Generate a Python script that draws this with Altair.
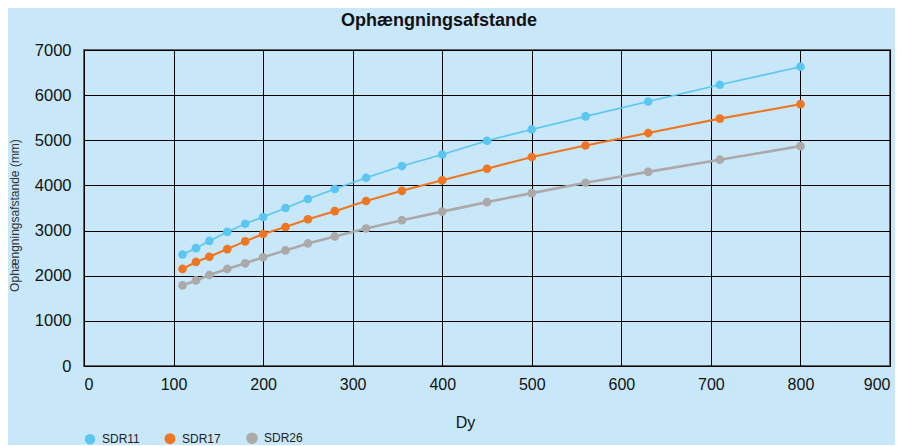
import altair as alt
import pandas as pd

dy = [110, 125, 140, 160, 180, 200, 225, 250, 280, 315, 355, 400, 450, 500, 560, 630, 710, 800]
sdr11 = [2470, 2610, 2770, 2970, 3150, 3300, 3500, 3700, 3920, 4170, 4430, 4685, 4990, 5240, 5530, 5860, 6230, 6630]
sdr17 = [2150, 2305, 2420, 2590, 2760, 2925, 3080, 3250, 3430, 3655, 3880, 4115, 4370, 4630, 4885, 5160, 5480, 5800]
sdr26 = [1785, 1895, 2015, 2150, 2275, 2410, 2560, 2715, 2870, 3045, 3230, 3420, 3630, 3830, 4060, 4300, 4570, 4870]
series = ["SDR11", "SDR17", "SDR26"]
colors = ["#5bc6f0", "#ee7623", "#aca9a9"]

rows = []
for name, vals in zip(series, [sdr11, sdr17, sdr26]):
    for d, v in zip(dy, vals):
        rows.append({"Dy": d, "val": v, "serie": name})
df = pd.DataFrame(rows)

font = "Liberation Sans"
xenc = alt.X("Dy:Q", scale=alt.Scale(domain=[0, 900], nice=False),
             axis=alt.Axis(values=list(range(0, 901, 100)), format="d", title="Dy", grid=True,
                           gridColor="#000000", gridWidth=1, gridOpacity=1,
                           ticks=False, domain=False, labelFontSize=16, labelColor="#111",
                           labelPadding=10, titleFontSize=16, titleFontWeight="normal",
                           titleX=381, titleY=48, titleColor="#111", labelFont=font, titleFont=font))
yenc = alt.Y("val:Q", scale=alt.Scale(domain=[0, 7000], nice=False),
             axis=alt.Axis(values=list(range(0, 7001, 1000)), format="d", title="Ophængningsafstande (mm)",
                           grid=True, gridColor="#000000", gridWidth=1, gridOpacity=1,
                           ticks=False, domain=False, labelFontSize=16.5, labelColor="#111",
                           labelPadding=13, titleFontSize=12, titleFontWeight="normal",
                           titleX=-70, titleY=165, titleAlign="center", titleBaseline="middle",
                           titleAngle=270,
                           titleColor="#333", labelFont=font, titleFont=font))
color = alt.Color("serie:N", scale=alt.Scale(domain=series, range=colors),
                  legend=alt.Legend(title=None, orient="none", legendX=0, legendY=382,
                                    direction="horizontal", columns=3, symbolType="circle",
                                    symbolSize=80, symbolStrokeWidth=0, labelFontSize=12,
                                    labelFont=font, labelColor="#222", columnPadding=21,
                                    labelOffset=6))

base = alt.Chart(df)
line = base.mark_line().encode(
    x=xenc, y=yenc, color=color,
    strokeWidth=alt.StrokeWidth("serie:N", scale=alt.Scale(domain=series, range=[1.6, 2.6, 2.6]), legend=None))
pts = base.mark_circle(size=75, opacity=1).encode(x=xenc, y=yenc, color=color)

chart = alt.layer(line, pts).properties(
    width=806, height=316,
    autosize="none",
    padding={"left": 76, "top": 42, "right": 5, "bottom": 79},
    background="#c8e8fa",
    title=alt.TitleParams("Ophængningsafstande", fontSize=18, fontWeight="bold", font=font,
                          color="#111", anchor="middle", dx=-48, offset=12),
).configure_view(stroke="#5a626a", strokeWidth=2, fill="#c8e8fa")

chart.save("out.html", embed_options={"renderer": "svg", "actions": False})
